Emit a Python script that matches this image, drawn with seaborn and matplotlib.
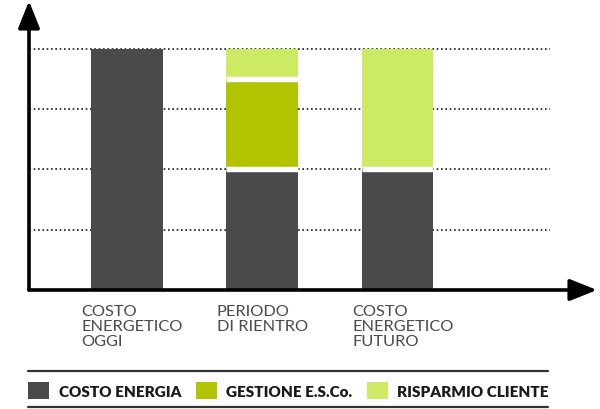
import numpy as np
import pandas as pd
import matplotlib
matplotlib.use("Agg")
import matplotlib.pyplot as plt
import matplotlib.transforms as mtransforms
from matplotlib.patches import Patch
from matplotlib.lines import Line2D
import seaborn as sns

# ---- data ----
categories = ["COSTO\nENERGETICO\nOGGI", "PERIODO\nDI RIENTRO", "COSTO\nENERGETICO\nFUTURO"]
costo_energia = [4.0, 2.0, 2.0]
gestione_esco = [0.0, 1.5, 0.0]
risparmio_cliente = [0.0, 0.5, 2.0]
series_names = ["COSTO ENERGIA", "GESTIONE E.S.Co.", "RISPARMIO CLIENTE"]
grid_levels = [1, 2, 3, 4]

col_dark = "#4a4a4a"
col_green = "#b2c400"
col_light = "#cdea64"

sns.set_theme(style="white")
plt.rcParams["font.family"] = ["Lato", "DejaVu Sans"]

df = pd.DataFrame({
    "cat": categories,
    "dark": costo_energia,
    "green": gestione_esco,
    "light": risparmio_cliente,
})
df["top_green"] = df["dark"] + df["green"]
df["top_light"] = df["top_green"] + df["light"]

fig = plt.figure(figsize=(6.0, 4.1), dpi=100)
ax = fig.add_axes([29 / 600, 1 - 291 / 410, 568 / 600, 289 / 410])

bar_w = 0.532
ax.hlines(grid_levels, -1, 3.128, colors="#1a1a1a", linewidth=1.2,
          linestyles=(0, (1, 1.6)), zorder=0)

sns.barplot(data=df, x="cat", y="top_light", color=col_light, width=bar_w,
            saturation=1, ax=ax, zorder=2, linewidth=0)
sns.barplot(data=df, x="cat", y="top_green", color=col_green, width=bar_w,
            saturation=1, ax=ax, zorder=3, linewidth=0)
sns.barplot(data=df, x="cat", y="dark", color=col_dark, width=bar_w,
            saturation=1, ax=ax, zorder=4, linewidth=0)

# white separators between stacked segments
dark_patches = ax.containers[-1]
for i, p in enumerate(dark_patches):
    segs = [costo_energia[i], gestione_esco[i], risparmio_cliente[i]]
    levels = np.cumsum(segs)
    for k in range(len(segs) - 1):
        if segs[k] > 0 and sum(segs[k + 1:]) > 0:
            ax.hlines(levels[k], p.get_x(), p.get_x() + p.get_width(),
                      colors="white", linewidth=3.9, zorder=5)

ax.set_xlim(-0.7246, 3.475)
ax.set_ylim(0, 4.79)
ax.set_xlabel("")
ax.set_ylabel("")
ax.set_xticks([])
ax.set_yticks([])
for s in ax.spines.values():
    s.set_visible(False)

# axis arrows
arrow_kw = dict(arrowstyle="-|>,head_length=0.75,head_width=0.3", lw=2.6,
                color="black", mutation_scale=22, shrinkA=0, shrinkB=0)
ax.annotate("", xy=(0, 1.0), xytext=(0, 0), xycoords="axes fraction",
            arrowprops=arrow_kw, annotation_clip=False, zorder=6)
ax.annotate("", xy=(1.0, 0), xytext=(0, 0), xycoords="axes fraction",
            arrowprops=arrow_kw, annotation_clip=False, zorder=6)

# category labels (left-aligned under each bar)
trans = mtransforms.blended_transform_factory(ax.transData, ax.transAxes)
for i, lab in enumerate(categories):
    ax.text(i - 0.335, -0.047, lab, transform=trans, ha="left", va="top",
            fontsize=11.8, color="#4a4a4a", linespacing=1.13,
            fontweight="normal")

# legend
handles = [Patch(facecolor=c, edgecolor="none") for c in (col_dark, col_green, col_light)]
fig.legend(handles=handles, labels=series_names, loc="center left",
           bbox_to_anchor=(28 / 600, 1 - 391.5 / 410), ncol=3, frameon=False,
           prop={"family": ["Lato", "DejaVu Sans"], "weight": "heavy", "size": 11.0},
           labelcolor="#1a1a1a", handlelength=1.4, handleheight=1.4,
           handletextpad=0.6, columnspacing=0.95, borderpad=0, borderaxespad=0)

for yy in (372, 408):
    fig.add_artist(Line2D([28 / 600, 548 / 600], [1 - yy / 410, 1 - yy / 410],
                          color="#333333", lw=1.6, transform=fig.transFigure))

fig.savefig("out.png", dpi=100)
